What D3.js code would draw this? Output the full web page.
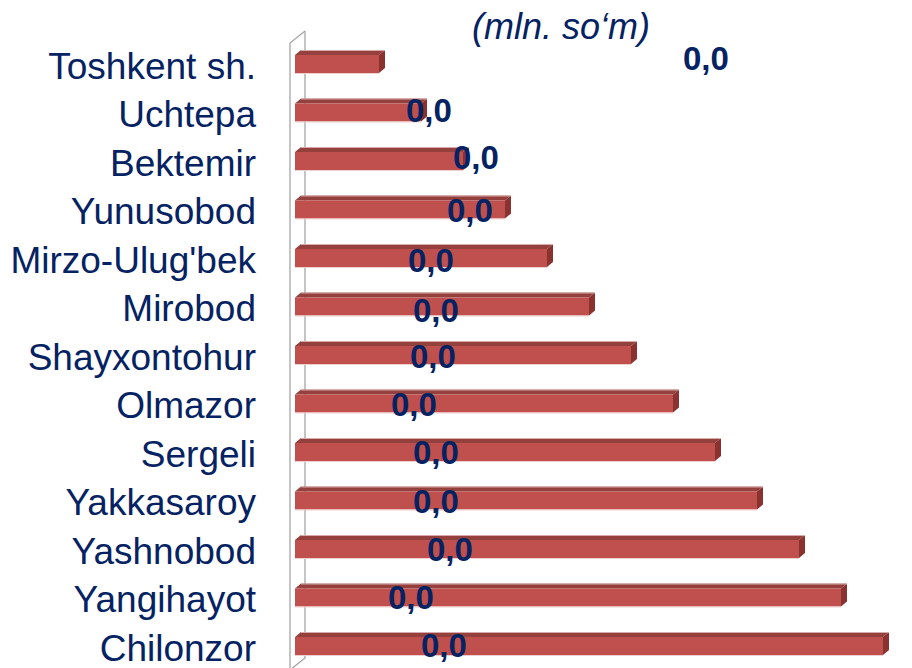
<!DOCTYPE html>
<html>
<head>
<meta charset="utf-8">
<script src="https://cdn.jsdelivr.net/npm/d3@7"></script>
<style>
  html, body { margin: 0; padding: 0; background: #ffffff; }
  svg { display: block; }
</style>
</head>
<body>
<svg id="chart" width="912" height="668"></svg>
<script>
// ---- data ----
const categories = ["Toshkent sh.", "Uchtepa", "Bektemir", "Yunusobod", "Mirzo-Ulug'bek", "Mirobod",
  "Shayxontohur", "Olmazor", "Sergeli", "Yakkasaroy", "Yashnobod", "Yangihayot", "Chilonzor"];
const values = [2, 3, 4, 5, 6, 7, 8, 9, 10, 11, 12, 13, 14];
const dataLabels = ["0,0", "0,0", "0,0", "0,0", "0,0", "0,0", "0,0", "0,0", "0,0", "0,0", "0,0", "0,0", "0,0"];
const subtitle = "(mln. so\u2018m)";

// ---- layout (label placement as drawn in the original) ----
const labelLeftX = [683, 406, 453, 447, 408, 413, 410, 391, 413, 413, 427, 388, 421];
const labelDy = [-6, -3, -4, 0, 2, 3, 1, 0, 0, 0, 0, -1, -1];

const navy = "#052262";
const svg = d3.select("#chart");

const x = d3.scaleLinear().domain([0, 14]).range([295, 883]);
const y = d3.scaleBand().domain(categories).range([39.75, 670.25]).paddingInner(0).paddingOuter(0);

const frontH = 18, depthX = 6, depthY = 5;

// back wall lines
const wall = svg.append("g").attr("stroke", "#a6a6a6").attr("stroke-width", 1.3).attr("fill", "none");
wall.append("path").attr("d", "M305,31 L305,658 L290,670");
wall.append("path").attr("d", "M290,670 L290,43 L305,31");

// bars
const bars = svg.append("g");
categories.forEach((c, i) => {
  const cy = y(c) + y.bandwidth() / 2;
  const top = cy - frontH / 2, bot = cy + frontH / 2;
  const x0 = x(0), x1 = x(values[i]);
  const g = bars.append("g");
  g.append("path")
    .attr("d", `M${x0},${top} L${x0 + depthX},${top - depthY} L${x1 + depthX},${top - depthY} L${x1},${top} Z`)
    .attr("fill", "#94403d");
  g.append("path")
    .attr("d", `M${x1},${top} L${x1 + depthX},${top - depthY} L${x1 + depthX},${bot - depthY} L${x1},${bot} Z`)
    .attr("fill", "#8a3230");
  g.append("rect")
    .attr("x", x0).attr("y", top).attr("width", x1 - x0).attr("height", frontH)
    .attr("fill", "#c0504d");
  g.append("line").attr("x1", x0).attr("x2", x1).attr("y1", bot + 0.5).attr("y2", bot + 0.5)
    .attr("stroke", "#f0d0cf").attr("stroke-width", 1);
  g.append("line").attr("x1", x0).attr("x2", x1).attr("y1", top - depthY + 0.5).attr("y2", top - depthY + 0.5)
    .attr("stroke", "#e8c4c3").attr("stroke-width", 0.8).attr("transform", `translate(${depthX},0)`);
});

// category labels
svg.append("g").selectAll("text").data(categories).join("text")
  .attr("x", 256)
  .attr("y", d => y(d) + y.bandwidth() / 2 + 14.5)
  .attr("text-anchor", "end")
  .attr("font-family", "Liberation Sans, Arial, sans-serif")
  .attr("font-size", 37)
  .attr("fill", navy)
  .text(d => d);

// data labels
svg.append("g").selectAll("text").data(categories).join("text")
  .attr("x", (d, i) => labelLeftX[i])
  .attr("y", (d, i) => y(d) + y.bandwidth() / 2 + 12 + labelDy[i])
  .attr("font-family", "Liberation Sans, Arial, sans-serif")
  .attr("font-size", 33)
  .attr("font-weight", "bold")
  .attr("fill", navy)
  .text((d, i) => dataLabels[i]);

// subtitle
svg.append("text")
  .attr("x", 561).attr("y", 39)
  .attr("text-anchor", "middle")
  .attr("font-family", "Liberation Sans, Arial, sans-serif")
  .attr("font-size", 36)
  .attr("font-style", "italic")
  .attr("fill", navy)
  .text(subtitle);
</script>
</body>
</html>
